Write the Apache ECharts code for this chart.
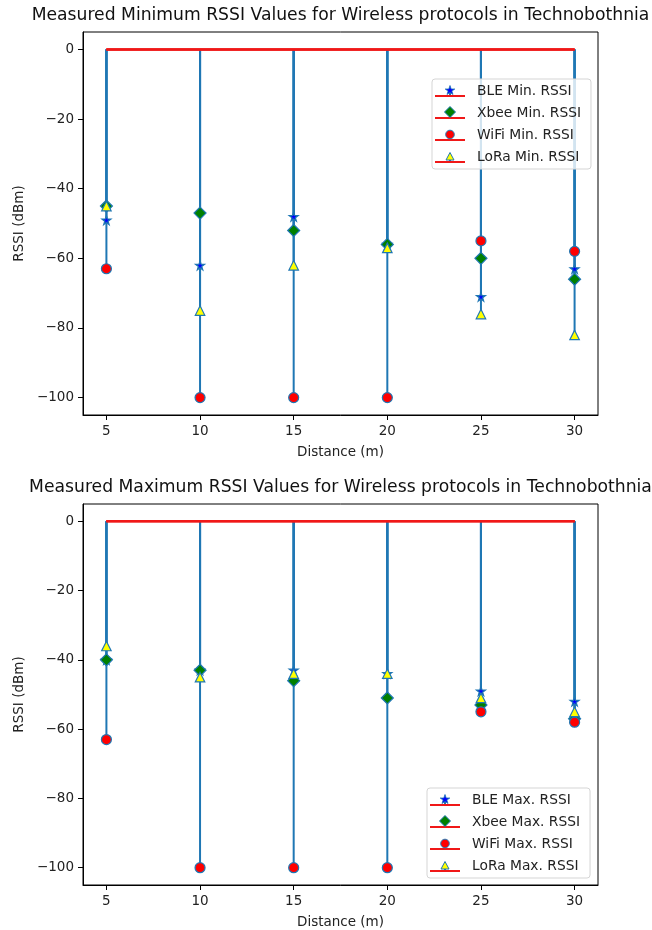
<!DOCTYPE html>
<html>
<head>
<meta charset="utf-8">
<script src="https://cdn.jsdelivr.net/npm/echarts@6/dist/echarts.min.js"></script>
<style>
  html, body { margin: 0; padding: 0; background: #fff; }
  #chart { width: 652px; height: 930px; }
</style>
</head>
<body>
<div id="chart"></div>
<script>
// distances (m) and measured RSSI (dBm)
const distances = [5, 10, 15, 20, 25, 30];
const bleMin = [-49, -62, -48, -56, -71, -63];
const xbeeMin = [-45, -47, -52, -56, -60, -66];
const wifiMin = [-63, -100, -100, -100, -55, -58];
const loraMin = [-45, -75, -62, -57, -76, -82];
const bleMax = [-40, -43, -43, -44, -49, -52];
const xbeeMax = [-40, -43, -46, -51, -53, -57];
const wifiMax = [-63, -100, -100, -100, -55, -58];
const loraMax = [-36, -45, -44, -44, -51, -55];
const xTicks = [5, 10, 15, 20, 25, 30];
const yTicks = [-100, -80, -60, -40, -20, 0];
const titles = [
    'Measured Minimum RSSI Values for Wireless protocols in Technobothnia',
    'Measured Maximum RSSI Values for Wireless protocols in Technobothnia'
];

const FONT = 'DejaVu Sans';
const stemColor = '#1f77b4';
const baseColor = '#f01818';
const starPath = 'path://M50,0 L61,35 L98,35 L68,57 L79,91 L50,70 L21,91 L32,57 L2,35 L39,35 Z';

const markers = {
    BLE: { symbol: starPath, size: 9, fill: '#0000ff', svg: '<path d="M16,2.5 L17.2,6 L20.8,6 L17.9,8.1 L19,11.5 L16,9.4 L13,11.5 L14.1,8.1 L11.2,6 L14.8,6 Z" fill="#0000ff" stroke="#1f77b4" stroke-width="0.8"/>' },
    Xbee: { symbol: 'diamond', size: [12, 12], fill: '#008000', svg: '<path d="M16,1.5 L21.5,7 L16,12.5 L10.5,7 Z" fill="#008000" stroke="#1f77b4" stroke-width="1"/>' },
    WiFi: { symbol: 'circle', size: 10, fill: '#ff0000', svg: '<circle cx="16" cy="7.5" r="4.3" fill="#ff0000" stroke="#1f77b4" stroke-width="1"/>' },
    LoRa: { symbol: 'triangle', size: 9.5, fill: '#ffff00', svg: '<path d="M16,3.5 L20,11 L12,11 Z" fill="#ffff00" stroke="#1f77b4" stroke-width="1"/>' }
};

function legendIcon(key) {
    const svg = '<svg xmlns="http://www.w3.org/2000/svg" width="38" height="16" viewBox="0 0 38 16">' +
        '<line x1="16" y1="13" x2="16" y2="7" stroke="#1f77b4" stroke-width="2"/>' +
        '<line x1="1" y1="13" x2="31" y2="13" stroke="#f01818" stroke-width="2"/>' +
        markers[key].svg + '</svg>';
    return 'image://data:image/svg+xml;charset=utf-8,' + encodeURIComponent(svg);
}

function minusText(v) {
    return String(v).replace('-', '\u2212');
}

function stemSeries(values, gridIdx) {
    return {
        type: 'custom',
        xAxisIndex: gridIdx,
        yAxisIndex: gridIdx,
        silent: true,
        data: distances.map((d, i) => [d, values[i]]),
        renderItem: function (params, api) {
            const top = api.coord([api.value(0), 0]);
            const bottom = api.coord([api.value(0), api.value(1)]);
            return {
                type: 'line',
                shape: { x1: top[0], y1: top[1], x2: bottom[0], y2: bottom[1] },
                style: { stroke: stemColor, lineWidth: 2 }
            };
        }
    };
}

function markerSeries(name, key, values, gridIdx) {
    const m = markers[key];
    return {
        name: name,
        type: 'scatter',
        xAxisIndex: gridIdx,
        yAxisIndex: gridIdx,
        symbol: m.symbol,
        symbolSize: m.size,
        itemStyle: { color: m.fill, borderColor: stemColor, borderWidth: 1.2, opacity: 1 },
        data: distances.map((d, i) => [d, values[i]])
    };
}

function baseSeries(gridIdx) {
    return {
        type: 'line',
        xAxisIndex: gridIdx,
        yAxisIndex: gridIdx,
        silent: true,
        symbol: 'none',
        lineStyle: { color: baseColor, width: 2 },
        data: [[distances[0], 0], [distances[distances.length - 1], 0]]
    };
}

const panels = [
    { suffix: 'Min. RSSI', data: { BLE: bleMin, Xbee: xbeeMin, WiFi: wifiMin, LoRa: loraMin } },
    { suffix: 'Max. RSSI', data: { BLE: bleMax, Xbee: xbeeMax, WiFi: wifiMax, LoRa: loraMax } }
];
const keys = ['BLE', 'Xbee', 'WiFi', 'LoRa'];

const series = [];
panels.forEach(function (p, g) {
    keys.forEach(function (k) {
        series.push(stemSeries(p.data[k], g));
        series.push(markerSeries(k + ' ' + p.suffix, k, p.data[k], g));
        series.push(baseSeries(g));
    });
});

const gridTops = [32, 504];
const legendPos = [{ left: 432, top: 79 }, { left: 427, top: 788 }];

const axisLineStyle = { color: '#000', width: 1 };
const tickText = { fontFamily: FONT, fontSize: 13.5, color: '#222' };

const option = {
    backgroundColor: '#fff',
    animation: false,
    title: titles.map((t, i) => ({
        text: t,
        left: 340.5,
        top: gridTops[i] - 25,
        textAlign: 'center',
        padding: 0,
        textStyle: { fontFamily: FONT, fontSize: 17.2, fontWeight: 'normal', color: '#111' }
    })),
    legend: panels.map((p, i) => ({
        orient: 'vertical',
        left: legendPos[i].left,
        top: legendPos[i].top,
        padding: [4, 10, 4, 2],
        itemGap: 6,
        itemWidth: 38,
        itemHeight: 16,
        align: 'left',
        backgroundColor: 'rgba(255,255,255,0.8)',
        borderColor: '#d5d5d5',
        borderWidth: 1,
        borderRadius: 3,
        selectedMode: false,
        textStyle: { fontFamily: FONT, fontSize: 13.8, color: '#222', padding: [0, 0, 0, 0] },
        data: keys.map(k => ({ name: k + ' ' + p.suffix, icon: legendIcon(k) }))
    })),
    grid: gridTops.map(t => ({
        left: 83, top: t, width: 515, height: 383,
        show: true, borderColor: '#000', borderWidth: 1, backgroundColor: 'transparent'
    })),
    xAxis: [0, 1].map(g => ({
        type: 'value',
        gridIndex: g,
        min: 3.75,
        max: 31.25,
        name: 'Distance (m)',
        nameLocation: 'middle',
        nameGap: 30,
        nameTextStyle: { fontFamily: FONT, fontSize: 13.5, color: '#222' },
        axisLine: { show: true, onZero: false, lineStyle: axisLineStyle },
        axisTick: { show: true, length: 5, customValues: xTicks, lineStyle: axisLineStyle },
        axisLabel: Object.assign({ margin: 9, customValues: xTicks }, tickText),
        splitLine: { show: false }
    })),
    yAxis: [0, 1].map(g => ({
        type: 'value',
        gridIndex: g,
        min: -105,
        max: 5,
        name: 'RSSI (dBm)',
        nameLocation: 'middle',
        nameGap: 56,
        nameTextStyle: { fontFamily: FONT, fontSize: 13.5, color: '#222' },
        axisLine: { show: true, onZero: false, lineStyle: axisLineStyle },
        axisTick: { show: true, length: 5, customValues: yTicks, lineStyle: axisLineStyle },
        axisLabel: Object.assign({ margin: 9, customValues: yTicks, formatter: minusText }, tickText),
        splitLine: { show: false }
    })),
    series: series
};

const chart = echarts.init(document.getElementById('chart'), null, { renderer: 'canvas' });
chart.setOption(option);
</script>
</body>
</html>
